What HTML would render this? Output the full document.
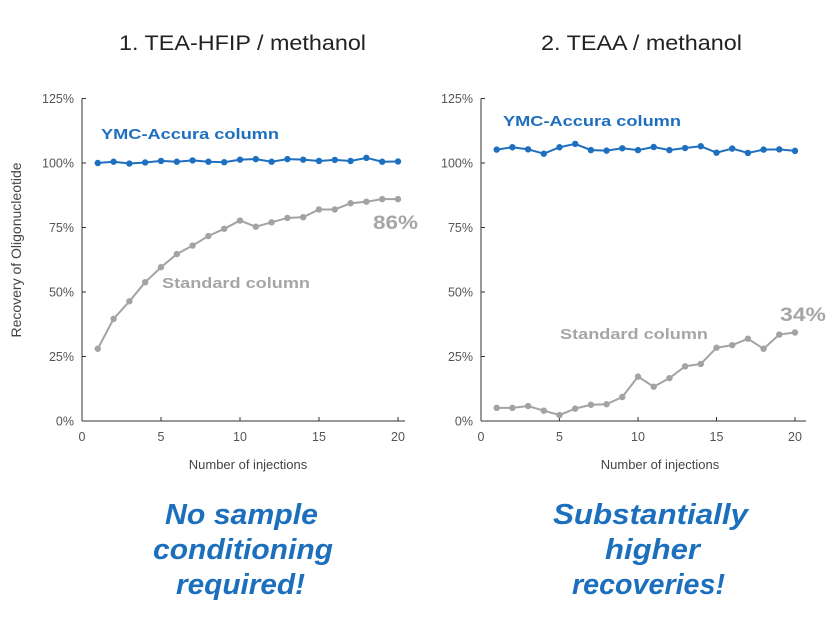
<!DOCTYPE html>
<html><head><meta charset="utf-8"><style>
html,body{margin:0;padding:0;background:#fff;}
svg{display:block;}
.t{font-family:"Liberation Sans",Arial,sans-serif;}
.h{font-family:"Liberation Sans",sans-serif;font-style:italic;font-weight:bold;fill:#1b6fbd;font-size:29px;}
</style></head><body>
<svg id="s" width="835" height="625" xmlns="http://www.w3.org/2000/svg">
<text class="t" x="119" y="50" font-size="21" fill="#222" textLength="247" lengthAdjust="spacingAndGlyphs">1. TEA-HFIP / methanol</text>
<text class="t" x="541" y="50" font-size="21" fill="#222" textLength="201" lengthAdjust="spacingAndGlyphs">2. TEAA / methanol</text>
<text class="t" transform="translate(21,250) rotate(-90)" text-anchor="middle" font-size="14" fill="#444">Recovery of Oligonucleotide</text>
<text class="t" x="248" y="469" text-anchor="middle" font-size="13" fill="#444">Number of injections</text>
<text class="t" x="660" y="469" text-anchor="middle" font-size="13" fill="#444">Number of injections</text>
<g id="g"></g>
<text class="t" x="101" y="139" font-size="15" font-weight="bold" fill="#1f6fc0" textLength="178" lengthAdjust="spacingAndGlyphs">YMC-Accura column</text>
<text class="t" x="503" y="126" font-size="15" font-weight="bold" fill="#1f6fc0" textLength="178" lengthAdjust="spacingAndGlyphs">YMC-Accura column</text>
<text class="t" x="162" y="288" font-size="15" font-weight="bold" fill="#a6a6a6" textLength="148" lengthAdjust="spacingAndGlyphs">Standard column</text>
<text class="t" x="560" y="339" font-size="15" font-weight="bold" fill="#a6a6a6" textLength="148" lengthAdjust="spacingAndGlyphs">Standard column</text>
<text class="t" x="373" y="229" font-size="19" font-weight="bold" fill="#a6a6a6" textLength="45" lengthAdjust="spacingAndGlyphs">86%</text>
<text class="t" x="780" y="321" font-size="19" font-weight="bold" fill="#a6a6a6" textLength="46" lengthAdjust="spacingAndGlyphs">34%</text>
<text class="h" x="165" y="524" textLength="153" lengthAdjust="spacingAndGlyphs">No sample</text>
<text class="h" x="153" y="559" textLength="180" lengthAdjust="spacingAndGlyphs">conditioning</text>
<text class="h" x="176" y="594" textLength="129" lengthAdjust="spacingAndGlyphs">required!</text>
<text class="h" x="553" y="524" textLength="195" lengthAdjust="spacingAndGlyphs">Substantially</text>
<text class="h" x="605" y="559" textLength="95" lengthAdjust="spacingAndGlyphs">higher</text>
<text class="h" x="572" y="594" textLength="153" lengthAdjust="spacingAndGlyphs">recoveries!</text>
</svg>
<script>
var NS="http://www.w3.org/2000/svg",g=document.getElementById("g");
function el(n,a,txt){var e=document.createElementNS(NS,n);for(var k in a)e.setAttribute(k,a[k]);if(txt!==undefined)e.textContent=txt;g.appendChild(e);return e;}
function chart(ox,xr,x20,blue,gray){
 var y0=421,yt=98.5,sy=(y0-yt)/125,sx=(x20-ox)/20;
 el("line",{x1:ox,y1:yt,x2:ox,y2:y0,stroke:"#333","stroke-width":1});
 el("line",{x1:ox,y1:y0,x2:xr,y2:y0,stroke:"#333","stroke-width":1});
 for(var v=0;v<=125;v+=25){var y=y0-v*sy;el("line",{x1:ox,y1:y,x2:ox+4,y2:y,stroke:"#333"});
  el("text",{x:ox-8,y:y+4.5,"text-anchor":"end","font-size":12.5,fill:"#555","class":"t"},v+"%");}
 for(var i=0;i<=20;i+=5){var x=ox+i*sx;if(i>0)el("line",{x1:x,y1:y0,x2:x,y2:y0-4,stroke:"#333"});
  el("text",{x:x,y:y0+20,"text-anchor":"middle","font-size":12.5,fill:"#555","class":"t"},""+i);}
 [[blue,"#1f6fc0"],[gray,"#a3a3a3"]].forEach(function(p){
  var pts=p[0].map(function(v,i){return [ox+(i+1)*sx,y0-v*sy];});
  el("polyline",{points:pts.map(function(q){return q.join(",")}).join(" "),fill:"none",stroke:p[1],"stroke-width":2});
  pts.forEach(function(q){el("circle",{cx:q[0],cy:q[1],r:3.2,fill:p[1]});});
 });
}
chart(82,405,398,[100,100.5,99.8,100.2,100.8,100.5,101,100.5,100.3,101.3,101.5,100.5,101.5,101.3,100.8,101.2,100.8,102,100.5,100.6],
[28,39.6,46.4,53.8,59.6,64.7,68,71.7,74.5,77.7,75.3,77,78.7,79,82,82,84.4,85,86,86]);
chart(481,806,795,[105.2,106.1,105.3,103.6,106.1,107.4,105,104.8,105.7,105,106.2,105,105.8,106.5,104,105.6,103.9,105.2,105.3,104.7],
[5.1,5.1,5.8,4,2.3,4.8,6.3,6.5,9.3,17.2,13.3,16.6,21.2,22.1,28.4,29.4,31.9,28,33.5,34.3]);
</script>
</body></html>
